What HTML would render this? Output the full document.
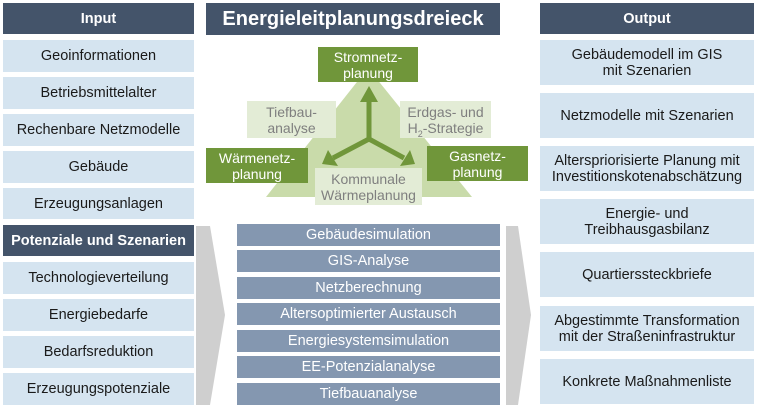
<!DOCTYPE html>
<html><head><meta charset="utf-8"><style>
body{margin:0;width:760px;height:413px;background:#fff;position:relative;overflow:hidden;font-family:"Liberation Sans",sans-serif;}
.b{position:absolute;display:flex;align-items:center;justify-content:center;text-align:center;box-sizing:border-box;line-height:16px;}
.l{background:#d5e4f0;color:#1a1a1a;font-size:14.5px;}
.h{background:#44546a;color:#fff;font-weight:bold;font-size:14.5px;}
.m{background:#8497b0;color:#fff;font-size:14.5px;}
.g{background:#70963a;color:#fff;font-size:14px;}
.lg{background:#e3ecd6;color:#7f7f7f;font-size:14px;}
</style></head><body>
<div class="b h" style="left:3px;top:3px;width:191px;height:31px">Input</div>
<div class="b l" style="left:3px;top:40px;width:191px;height:32px">Geoinformationen</div>
<div class="b l" style="left:3px;top:77px;width:191px;height:32px">Betriebsmittelalter</div>
<div class="b l" style="left:3px;top:114px;width:191px;height:32px">Rechenbare Netzmodelle</div>
<div class="b l" style="left:3px;top:151px;width:191px;height:32px">Gebäude</div>
<div class="b l" style="left:3px;top:188px;width:191px;height:31px">Erzeugungsanlagen</div>
<div class="b h" style="left:3px;top:225px;width:191px;height:31px">Potenziale und Szenarien</div>
<div class="b l" style="left:3px;top:262px;width:191px;height:32px">Technologieverteilung</div>
<div class="b l" style="left:3px;top:299px;width:191px;height:32px">Energiebedarfe</div>
<div class="b l" style="left:3px;top:336px;width:191px;height:32px">Bedarfsreduktion</div>
<div class="b l" style="left:3px;top:373px;width:191px;height:32px">Erzeugungspotenziale</div>

<div class="b h" style="left:206px;top:3px;width:294px;height:32px;font-size:20px">Energieleitplanungsdreieck</div>

<svg style="position:absolute;left:0;top:0" width="760" height="413">
<polygon points="196,226 210,226 225,315 210,405 196,405" fill="#cfcfcf"/>
<polygon points="506,226 518,226 531,315 518,405 506,405" fill="#cfcfcf"/>
<polygon points="368,68 472,197 266,197" fill="#c9dbaa"/>
</svg>

<div class="b g" style="left:318px;top:47px;width:100px;height:35px"><span>Stromnetz-<br>planung</span></div>
<div class="b lg" style="left:247px;top:101px;width:89px;height:37px"><span>Tiefbau-<br>analyse</span></div>
<div class="b lg" style="left:400px;top:101px;width:91px;height:37px"><span>Erdgas- und<br>H<sub style="font-size:9px;line-height:0">2</sub>-Strategie</span></div>
<div class="b g" style="left:206px;top:148px;width:102px;height:35px"><span>Wärmenetz-<br>planung</span></div>
<div class="b g" style="left:427px;top:146px;width:101px;height:35px"><span>Gasnetz-<br>planung</span></div>
<div class="b lg" style="left:315px;top:168px;width:107px;height:37px"><span>Kommunale<br>Wärmeplanung</span></div>

<svg style="position:absolute;left:0;top:0" width="760" height="413">
<g stroke="#70963a" stroke-width="5" fill="none">
<line x1="369" y1="139" x2="369" y2="100"/>
<line x1="369" y1="139" x2="333" y2="158"/>
<line x1="369" y1="139" x2="404" y2="158"/>
</g>
<g fill="#70963a">
<polygon points="369,86 360,102 378,102"/>
<polygon points="322,164 328,150 338,166"/>
<polygon points="415,164 410,150 400,166"/>
</g>
</svg>

<div class="b m" style="left:237px;top:224px;width:263px;height:22px">Gebäudesimulation</div>
<div class="b m" style="left:237px;top:250px;width:263px;height:22px">GIS-Analyse</div>
<div class="b m" style="left:237px;top:277px;width:263px;height:22px">Netzberechnung</div>
<div class="b m" style="left:237px;top:303px;width:263px;height:22px">Altersoptimierter Austausch</div>
<div class="b m" style="left:237px;top:330px;width:263px;height:22px">Energiesystemsimulation</div>
<div class="b m" style="left:237px;top:356px;width:263px;height:22px">EE-Potenzialanalyse</div>
<div class="b m" style="left:237px;top:383px;width:263px;height:22px">Tiefbauanalyse</div>

<div class="b h" style="left:540px;top:3px;width:214px;height:31px">Output</div>
<div class="b l" style="left:540px;top:40px;width:214px;height:45px"><span>Gebäudemodell im GIS<br>mit Szenarien</span></div>
<div class="b l" style="left:540px;top:93px;width:214px;height:45px">Netzmodelle mit Szenarien</div>
<div class="b l" style="left:540px;top:146px;width:214px;height:45px"><span>Alterspriorisierte Planung mit<br>Investitionskotenabschätzung</span></div>
<div class="b l" style="left:540px;top:199px;width:214px;height:45px"><span>Energie- und<br>Treibhausgasbilanz</span></div>
<div class="b l" style="left:540px;top:252px;width:214px;height:45px">Quartierssteckbriefe</div>
<div class="b l" style="left:540px;top:306px;width:214px;height:45px"><span>Abgestimmte Transformation<br>mit der Straßeninfrastruktur</span></div>
<div class="b l" style="left:540px;top:359px;width:214px;height:45px">Konkrete Maßnahmenliste</div>
</body></html>
